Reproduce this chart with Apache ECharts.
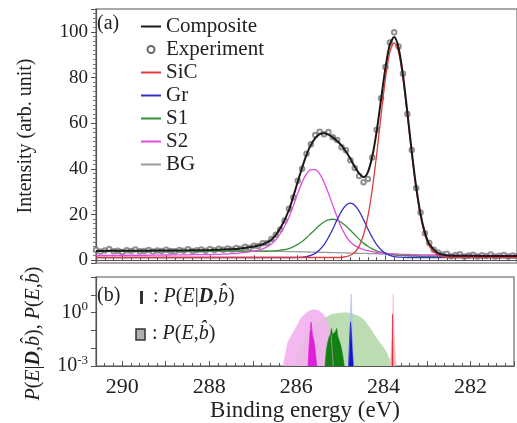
<!DOCTYPE html>
<html>
<head>
<meta charset="utf-8">
<script src="https://cdn.jsdelivr.net/npm/echarts@6/dist/echarts.min.js"></script>
<style>
html,body{margin:0;padding:0;background:#fff}
#main{width:517px;height:423px}
</style>
</head>
<body>
<div id="main"></div>
<script>
// ---- panel (a): fitted curves, sampled on one energy grid (eV) ----
var gridE = [290.6, 290.0, 289.5, 289.0, 288.5, 288.0, 287.6, 287.3, 287.0, 286.8, 286.6, 286.4, 286.2,
  286.0, 285.9, 285.8, 285.7, 285.6, 285.5, 285.4, 285.3, 285.2, 285.1, 285.0,
  284.9, 284.8, 284.7, 284.6, 284.5, 284.4, 284.3, 284.2, 284.1, 284.0,
  283.9, 283.8, 283.7, 283.6, 283.5, 283.4, 283.3, 283.2, 283.1, 283.0,
  282.8, 282.6, 282.3, 282.0, 281.5, 281.0];
var composite = [4.1, 4.15, 4.2, 4.25, 4.35, 4.5, 4.8, 5.2, 6.0, 7.0, 9.0, 13.9, 22.0,
  34.4, 40.5, 46.1, 50.5, 53.5, 55.2, 55.6, 55.0, 53.8, 52.2, 50.2,
  47.6, 44.4, 40.9, 38.0, 36.4, 38.6, 45.5, 56.4, 70.4, 84.2,
  94.4, 97.7, 92.9, 81.0, 64.8, 47.6, 32.3, 20.3, 12.1, 7.1,
  3.1, 2.2, 2.0, 1.95, 1.9, 1.9];
var sic = [1.2, 1.2, 1.2, 1.2, 1.2, 1.2, 1.2, 1.2, 1.2, 1.2, 1.2, 1.2, 1.2,
  1.2, 1.2, 1.2, 1.2, 1.2, 1.2, 1.2, 1.2, 1.2, 1.2, 1.3,
  1.6, 2.2, 3.5, 6.2, 11.1, 19.2, 31.1, 46.3, 63.4, 79.4,
  91.0, 95.2, 91.0, 79.4, 63.4, 46.3, 31.1, 19.2, 11.1, 6.2,
  2.2, 1.3, 1.2, 1.2, 1.2, 1.2];
var gr = [1.2, 1.2, 1.2, 1.2, 1.2, 1.2, 1.2, 1.2, 1.2, 1.2, 1.2, 1.2, 1.2,
  1.3, 1.4, 1.6, 2.1, 3.0, 4.6, 6.8, 10.0, 13.7, 17.8, 21.5,
  24.1, 25.0, 24.1, 21.5, 17.8, 13.7, 10.0, 6.8, 4.6, 3.0,
  2.1, 1.6, 1.4, 1.3, 1.2, 1.2, 1.2, 1.2, 1.2, 1.2,
  1.2, 1.2, 1.2, 1.2, 1.2, 1.2];
var s1 = [4.0, 4.0, 4.0, 4.0, 4.0, 4.0, 4.0, 4.0, 4.0, 4.0, 4.0, 4.4, 5.1,
  6.95, 8.2, 9.85, 11.7, 13.55, 15.3, 16.75, 17.7, 17.95, 17.6, 16.55,
  15.0, 13.15, 11.2, 9.25, 7.5, 6.15, 5.0, 4.15, 3.55, 3.15,
  2.75, 2.45, 2.2, 2.1, 2.0, 1.95, 1.9, 1.85, 1.8, 1.8,
  1.8, 1.8, 1.8, 1.8, 1.8, 1.8];
var s2 = [2.1, 2.2, 2.2, 2.3, 2.4, 2.5, 2.8, 3.2, 4.0, 5.0, 7.0, 11.5, 18.8,
  29.3, 34.1, 37.8, 39.7, 39.7, 37.8, 34.1, 29.3, 24.0, 18.8, 14.1,
  10.6, 8.0, 6.4, 5.4, 4.7, 4.2, 3.8, 3.5, 3.2, 3.0,
  2.9, 2.8, 2.7, 2.6, 2.55, 2.5, 2.45, 2.4, 2.35, 2.3,
  2.3, 2.25, 2.2, 2.15, 2.1, 2.1];
var bg = [4.0, 4.0, 4.0, 4.0, 4.0, 4.0, 4.0, 4.0, 3.98, 3.95, 3.92, 3.88, 3.82,
  3.75, 3.7, 3.65, 3.6, 3.55, 3.5, 3.45, 3.4, 3.35, 3.3, 3.25,
  3.2, 3.15, 3.1, 3.05, 3.0, 2.95, 2.9, 2.85, 2.75, 2.65,
  2.5, 2.35, 2.2, 2.1, 2.0, 1.95, 1.9, 1.85, 1.8, 1.8,
  1.8, 1.8, 1.8, 1.8, 1.8, 1.8];

// measured points
var expE = [290.6, 290.5, 290.4, 290.3, 290.2, 290.1, 290.0,
  289.9, 289.8, 289.7, 289.6, 289.5, 289.4, 289.3, 289.2, 289.1, 289.0,
  288.9, 288.8, 288.7, 288.6, 288.5, 288.4, 288.3, 288.2, 288.1, 288.0,
  287.9, 287.8, 287.7, 287.6, 287.5, 287.4, 287.3, 287.2, 287.1, 287.0,
  286.9, 286.8, 286.7, 286.6, 286.5, 286.4, 286.3, 286.2, 286.1, 286.0,
  285.9, 285.8, 285.7, 285.6, 285.5, 285.4, 285.3, 285.2, 285.1, 285.0,
  284.9, 284.8, 284.7, 284.6, 284.5, 284.4, 284.3, 284.2, 284.1, 284.0,
  283.9, 283.8, 283.7, 283.6, 283.5, 283.4, 283.3, 283.2, 283.1, 283.0,
  282.9, 282.8, 282.7, 282.6, 282.5, 282.4, 282.3, 282.2, 282.1, 282.0,
  281.9, 281.8, 281.7, 281.6, 281.5, 281.4, 281.3, 281.2, 281.1, 281.0];
var expI = [4.6, 3.8, 4.3, 4.9, 3.9, 4.2, 3.6,
  4.4, 4.0, 4.7, 3.9, 4.1, 4.5, 3.8, 4.3, 4.0, 4.6,
  4.1, 3.9, 4.5, 4.2, 4.8, 4.0, 4.4, 4.7, 4.2, 4.9,
  4.4, 5.0, 4.6, 5.1, 4.7, 5.4, 5.0, 5.9, 5.5, 6.3,
  6.2, 7.4, 7.6, 9.3, 11.2, 13.5, 17.4, 22.6, 27.5, 34.8,
  40.1, 46.6, 50.8, 54.8, 56.3, 55.2, 56.1, 53.8, 52.6, 49.5,
  48.2, 43.8, 40.4, 36.9, 34.2, 35.6, 45.0, 57.1, 70.9, 84.6,
  95.3, 99.8, 93.6, 81.7, 64.0, 48.3, 31.6, 20.9, 11.8, 7.6,
  4.6, 3.4, 2.5, 2.9, 1.8, 2.3, 2.6, 1.7, 2.1, 2.4,
  1.6, 2.2, 1.9, 2.5, 1.7, 2.0, 2.3, 1.6, 2.1, 1.8];

// ---- panel (b): probability densities (log scale) ----
var pS1E = [286.05, 286.0, 285.85, 285.7, 285.5, 285.2, 285.0, 284.85, 284.7, 284.55, 284.44, 284.3, 284.15, 284.0, 283.92, 283.8];
var pS1 = [0.001, 0.003, 0.02, 0.1, 0.3, 0.78, 0.95, 1.0, 0.85, 0.6, 0.38, 0.13, 0.034, 0.011, 0.0055, 0.001];
var pS2E = [286.3, 286.2, 286.1, 286.0, 285.9, 285.8, 285.7, 285.6, 285.5, 285.4, 285.3, 285.2, 285.15];
var pS2 = [0.001, 0.02, 0.06, 0.15, 0.45, 0.85, 1.25, 1.45, 1.35, 0.9, 0.4, 0.05, 0.001];
var pGrE = [284.80, 284.77, 284.755, 284.74, 284.725, 284.71, 284.68];
var pGr = [0.001, 0.05, 1, 11, 1, 0.05, 0.001];
var pSiCE = [283.84, 283.80, 283.785, 283.775, 283.765, 283.75, 283.71];
var pSiC = [0.001, 0.05, 0.8, 11, 0.8, 0.05, 0.001];
var dS2E = [285.73, 285.71, 285.69, 285.675, 285.66, 285.645, 285.63, 285.60, 285.57, 285.53];
var dS2 = [0.001, 0.01, 0.05, 0.15, 0.3, 0.15, 0.06, 0.03, 0.01, 0.001];
var dS1E = [285.34, 285.31, 285.28, 285.25, 285.22, 285.19, 285.17, 285.15, 285.13, 285.11, 285.09, 285.07, 285.05, 285.02, 284.98, 284.94, 284.90];
var dS1 = [0.001, 0.008, 0.02, 0.04, 0.06, 0.13, 0.06, 0.07, 0.05, 0.08, 0.09, 0.13, 0.05, 0.03, 0.015, 0.005, 0.001];
var dGrE = [284.80, 284.785, 284.77, 284.755, 284.745, 284.73, 284.715, 284.69];
var dGr = [0.001, 0.01, 0.08, 0.3, 0.2, 0.05, 0.008, 0.001];
var dSiCE = [283.80, 283.79, 283.78];
var dSiC = [0.001, 0.8, 0.001];

var serif = 'Liberation Serif, DejaVu Serif, serif';
var ink = '#222';

function pairs(xs, ys) {
  var out = [];
  for (var i = 0; i < xs.length; i++) out.push([xs[i], ys[i]]);
  return out;
}

function curve(name, ys, color, width) {
  return {
    name: name, type: 'line', xAxisIndex: 0, yAxisIndex: 0,
    data: pairs(gridE, ys), symbol: 'none', smooth: 0.3,
    lineStyle: {color: color, width: width || 1.3},
    itemStyle: {color: color}
  };
}

function fill(name, xs, ys, color, opacity) {
  return {
    name: name, type: 'line', xAxisIndex: 1, yAxisIndex: 1,
    data: pairs(xs, ys), symbol: 'none',
    lineStyle: {width: 0.6, color: color, opacity: opacity},
    areaStyle: {color: color, opacity: opacity, origin: 'start'}
  };
}

// legend entry for a line: line glyph only, no marker
function lineKey(name) {
  return {name: name, itemStyle: {opacity: 0}};
}

var rich = {
  i: {fontFamily: serif, fontSize: 20, fontStyle: 'italic', color: ink},
  bi: {fontFamily: serif, fontSize: 20, fontStyle: 'italic', fontWeight: 'bold', color: ink}
};

var chart = echarts.init(document.getElementById('main'));
var option = {
  animation: false,
  backgroundColor: '#fff',
  grid: [
    {left: 96, right: -2, top: 9, height: 254, show: true, borderColor: '#8c8c8c', borderWidth: 1.5},
    {left: 96, right: -2, top: 277, height: 95, show: true, borderColor: '#8c8c8c', borderWidth: 1.5}
  ],
  xAxis: [
    {
      gridIndex: 0, type: 'value', min: 281, max: 290.6, interval: 1, inverse: true,
      axisLine: {lineStyle: {color: '#555'}},
      axisTick: {inside: true, length: 5, lineStyle: {color: '#555'}},
      minorTick: {show: true, splitNumber: 5, length: 3, lineStyle: {color: '#555'}},
      axisLabel: {show: false}, splitLine: {show: false}
    },
    {
      gridIndex: 1, type: 'value', min: 281, max: 290.6, interval: 1, inverse: true,
      axisLine: {lineStyle: {color: '#555'}},
      axisTick: {inside: true, length: 5, lineStyle: {color: '#555'}},
      minorTick: {show: true, splitNumber: 5, length: 3, lineStyle: {color: '#555'}},
      axisLabel: {
        fontFamily: serif, fontSize: 22, color: ink, margin: 10, showMaxLabel: false,
        formatter: function (v) { return Math.round(v) % 2 === 0 ? String(Math.round(v)) : ''; }
      },
      splitLine: {show: false},
      name: 'Binding energy (eV)', nameLocation: 'middle', nameGap: 27,
      nameTextStyle: {fontFamily: serif, fontSize: 23, color: ink}
    }
  ],
  yAxis: [
    {
      gridIndex: 0, type: 'value', min: -1.2, max: 110, splitNumber: 5,
      axisLine: {show: true, lineStyle: {color: '#555', width: 1.2}},
      axisTick: {show: true, length: 5, lineStyle: {color: '#555'}},
      minorTick: {show: true, splitNumber: 10, length: 3, lineStyle: {color: '#777'}},
      axisLabel: {
        fontFamily: serif, fontSize: 19, color: ink, margin: 8,
        formatter: function (v) { return Math.abs(v % 20) < 1e-6 ? String(v) : ''; }
      },
      splitLine: {show: false},
      name: 'Intensity (arb. unit)', nameLocation: 'middle', nameGap: 60,
      nameTextStyle: {fontFamily: serif, fontSize: 20, color: ink}
    },
    {
      gridIndex: 1, type: 'log', logBase: 10, min: 0.001, max: 100,
      axisLine: {show: true, lineStyle: {color: '#555', width: 1.2}},
      axisTick: {show: true, length: 5, lineStyle: {color: '#555'}},
      axisLabel: {
        fontFamily: serif, fontSize: 20, color: ink, margin: 8,
        formatter: function (v) {
          var p = Math.round(Math.log10(v));
          return (p === 0 || p === -3) ? '10{s|' + p + '}' : '';
        },
        rich: {s: {fontFamily: serif, fontSize: 13, color: ink, padding: [0, 0, 12, 0]}}
      },
      splitLine: {show: false},
      name: '{i|P}({i|E}|{bi|D},{i|b\u0302}), {i|P}({i|E},{i|b\u0302})',
      nameLocation: 'middle', nameGap: 52,
      nameTextStyle: {fontFamily: serif, fontSize: 20, color: ink, rich: rich, padding: [0, 24, 0, 0]}
    }
  ],
  legend: {
    left: 140, top: 16, padding: 0, orient: 'vertical', itemGap: 2, itemWidth: 20, itemHeight: 7,
    selectedMode: false,
    textStyle: {fontFamily: serif, fontSize: 21, color: ink, lineHeight: 20},
    data: [lineKey('Composite'),
      {name: 'Experiment', icon: 'emptyCircle', itemStyle: {color: '#444', borderColor: '#444', borderWidth: 1.3}},
      lineKey('SiC'), lineKey('Gr'), lineKey('S1'), lineKey('S2'), lineKey('BG')]
  },
  graphic: [
    {type: 'text', left: 97, top: 14, style: {text: '(a)', fontFamily: serif, fontSize: 20, fill: ink}},
    {type: 'text', left: 97, top: 286, style: {text: '(b)', fontFamily: serif, fontSize: 20, fill: ink}},
    {type: 'rect', shape: {x: 140, y: 291, width: 3, height: 13}, style: {fill: '#333'}},
    {type: 'text', left: 153, top: 287, style: {
      text: ': {i|P}({i|E}|{bi|D},{i|b\u0302})', fontFamily: serif, fontSize: 20, fill: ink, rich: rich}},
    {type: 'rect', shape: {x: 136, y: 329, width: 9, height: 11}, style: {fill: '#b0b0b0', stroke: '#333', lineWidth: 1.5}},
    {type: 'text', left: 152, top: 324, style: {
      text: ': {i|P}({i|E},{i|b\u0302})', fontFamily: serif, fontSize: 20, fill: ink, rich: rich}}
  ],
  series: [
    curve('BG', bg, '#9a9a9a'),
    curve('S1', s1, '#3a8f3a'),
    curve('S2', s2, '#e04ce0'),
    curve('Gr', gr, '#3434c0'),
    curve('SiC', sic, '#e03a3a'),
    {
      name: 'Experiment', type: 'scatter', xAxisIndex: 0, yAxisIndex: 0,
      data: pairs(expE, expI), symbol: 'emptyCircle', symbolSize: 4.5,
      itemStyle: {color: '#777', borderWidth: 0.7}
    },
    curve('Composite', composite, '#1a1a1a', 2),
    fill('S1 P(E,b)', pS1E, pS1, '#bcdcb4', 1),
    fill('S2 P(E,b)', pS2E, pS2, '#f3b0ee', 0.9),
    fill('Gr P(E,b)', pGrE, pGr, '#b0bff0', 1),
    fill('SiC P(E,b)', pSiCE, pSiC, '#f6bcc4', 1),
    fill('S2 P(E|D,b)', dS2E, dS2, '#e020d8', 1),
    fill('S1 P(E|D,b)', dS1E, dS1, '#128012', 1),
    fill('Gr P(E|D,b)', dGrE, dGr, '#1414c8', 1),
    fill('SiC P(E|D,b)', dSiCE, dSiC, '#e02030', 1)
  ]
};
chart.setOption(option);
</script>
</body>
</html>
